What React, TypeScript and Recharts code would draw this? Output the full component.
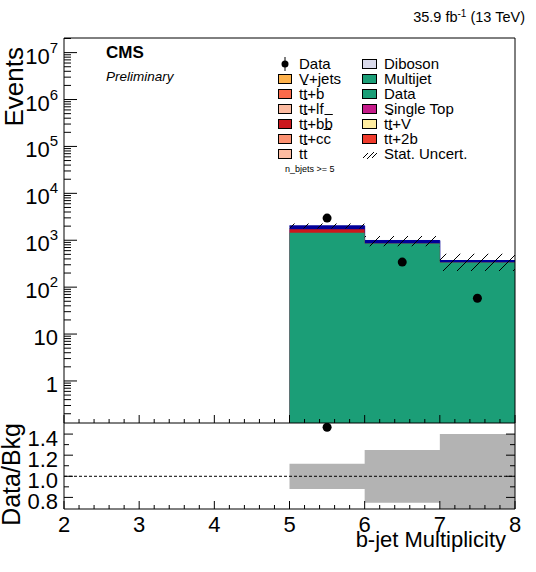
import React from 'react';
import { ComposedChart, Area, Scatter, XAxis, YAxis, ReferenceLine, ReferenceArea } from 'recharts';

const FONT = '"Liberation Sans", Arial, Helvetica, sans-serif';

// ---- data: b-jet multiplicity bins [2,3), [3,4), ... [7,8]
const binLowEdges = [2, 3, 4, 5, 6, 7];
const lastEdge = 8;
const multijet = [null, null, null, 1443, 853, 335];
const ttbbYield = [null, null, null, 280, 4, 1];
const otherYield = [null, null, null, 304, 131, 34];
const dataCounts = [null, null, null, 2970, 342, 58];
const statUncRel = [null, null, null, 0.12, 0.25, 0.4];

// ---- axis ticks
const xMajorTicks = [2, 3, 4, 5, 6, 7, 8];
const logDecades = [-1, 0, 1, 2, 3, 4, 5, 6, 7];
const ratioTicks = [0.8, 0.9, 1.0, 1.1, 1.2, 1.3, 1.4];
const ratioMajorTicks = [0.8, 1.0, 1.2, 1.4];
const ratioTickLabels = ['0.8', '1.0', '1.2', '1.4'];

// ---- legend
const legendCol1 = ['Data', 'V+jets', 't|t|+b', 't|t|+lf', 't|t|+b|b|', 't|t|+c|c|', 't|t|'];
const legendCol1Colors = [null, '#feb24c', '#fb6a4a', '#fcbba1', '#cb181d', '#fc9272', '#fcbba1'];
const legendCol2 = ['Diboson', 'Multijet', 'Data', 'Single Top', 't|t|+V', 't|t|+2b', 'Stat. Uncert.'];
const legendCol2Colors = ['#dadaeb', '#1b9e77', '#1b9e77', '#c51b8a', '#ffeda0', '#ef3b2c', null];

const COL_MJ = '#1b9e77';
const COL_BB = '#cb181d';
const COL_OTHER = '#000099';

const Y_MIN = 0.127;
const Y_MAX = 2.05e7;
const R_MIN = 0.69;
const R_MAX = 1.505;

const binTotal = (i: number) =>
  (multijet[i] ?? 0) + (ttbbYield[i] ?? 0) + (otherYield[i] ?? 0);

const histRows = [...binLowEdges, lastEdge].map((x, k) => {
  const i = Math.min(k, binLowEdges.length - 1);
  const mj = multijet[i];
  if (mj == null) return { x, mj: null, mjbb: null, total: null, unc: null, band: null };
  const mjbb = mj + (ttbbYield[i] ?? 0);
  const total = binTotal(i);
  const u = statUncRel[i] ?? 0;
  return { x, mj, mjbb, total, unc: [total * (1 - u), total * (1 + u)], band: [1 - u, 1 + u] };
});

const binCenters = binLowEdges.map((e) => e + 0.5);
const dataPoints = binCenters
  .map((x, i) => ({ x, y: dataCounts[i] }))
  .filter((p) => p.y != null);
const ratioPoints = binCenters
  .map((x, i) => (dataCounts[i] == null ? null : { x, y: (dataCounts[i] as number) / binTotal(i) }))
  .filter((p) => p != null && p.y >= R_MIN && p.y <= R_MAX) as { x: number; y: number }[];

const xTicks: number[] = [];
xMajorTicks.forEach((t, i) => {
  xTicks.push(t);
  if (i < xMajorTicks.length - 1) for (let k = 1; k < 5; k++) xTicks.push(+(t + k * 0.2).toFixed(1));
});

const logTicks: number[] = [];
logDecades.forEach((e) => {
  for (let m = 1; m <= 9; m++) {
    const v = m * Math.pow(10, e);
    if (v >= Y_MIN && v <= Y_MAX) logTicks.push(v);
  }
});

const isInt = (v: number) => Math.abs(v - Math.round(v)) < 1e-6;

const XTickUp = (p: any) => {
  const major = isInt(p.payload.value);
  return <line x1={p.x} x2={p.x} y1={p.y} y2={p.y - (major ? 8 : 4)} stroke="#000" strokeWidth={1} />;
};

const XTickRatio = (p: any) => {
  const v = p.payload.value;
  const major = isInt(v);
  return (
    <g>
      <line x1={p.x} x2={p.x} y1={p.y} y2={p.y - (major ? 8 : 4)} stroke="#000" strokeWidth={1} />
      {major && (
        <text x={p.x} y={p.y + 23} textAnchor="middle" fontSize={22} fontFamily={FONT} fill="#000">
          {Math.round(v)}
        </text>
      )}
    </g>
  );
};

const LogTick = (p: any) => {
  const v = p.payload.value;
  const lg = Math.log10(v);
  const e = Math.round(lg);
  const major = Math.abs(lg - e) < 1e-6;
  let label = null;
  if (major) {
    if (e >= 2) {
      label = (
        <text x={p.x - 6} y={p.y + 11} textAnchor="end" fontSize={22} fontFamily={FONT} fill="#000">
          10<tspan fontSize={15} dy={-11}>{e}</tspan>
        </text>
      );
    } else {
      label = (
        <text x={p.x - 6} y={p.y + 11} textAnchor="end" fontSize={22} fontFamily={FONT} fill="#000">
          {e === 1 ? '10' : '1'}
        </text>
      );
    }
  }
  return (
    <g>
      <line x1={p.x} x2={p.x + (major ? 13 : 7)} y1={p.y} y2={p.y} stroke="#000" strokeWidth={1} />
      {label}
    </g>
  );
};

const ratioIsMajor = (v: number) => ratioMajorTicks.some((m) => Math.abs(m - v) < 1e-6);

const RatioTickLeft = (p: any) => {
  const v = p.payload.value;
  const idx = ratioMajorTicks.findIndex((m) => Math.abs(m - v) < 1e-6);
  const major = idx >= 0;
  return (
    <g>
      <line x1={p.x} x2={p.x + (major ? 9 : 5)} y1={p.y} y2={p.y} stroke="#000" strokeWidth={1} />
      {major && (
        <text x={p.x - 6} y={p.y + 12} textAnchor="end" fontSize={22} fontFamily={FONT} fill="#000">
          {ratioTickLabels[idx]}
        </text>
      )}
    </g>
  );
};

const RatioTickRight = (p: any) => {
  const major = ratioIsMajor(p.payload.value);
  return <line x1={p.x} x2={p.x - (major ? 9 : 5)} y1={p.y} y2={p.y} stroke="#000" strokeWidth={1} />;
};

const Dot = (p: any) => <circle cx={p.cx} cy={p.cy} r={4.5} fill="#000" />;

const renderLabel = (s: string) =>
  s.split('|').map((part, i) =>
    i % 2 === 1 ? (
      <span key={i} style={{ textDecoration: 'overline' }}>
        {part}
      </span>
    ) : (
      <span key={i}>{part}</span>
    )
  );

const ROW0 = 64;
const ROWSTEP = 15.05;

const LegendColumn = ({ labels, colors, boxX, boxW, textX }: any) => (
  <>
    {labels.map((lab: string, i: number) => {
      const cy = ROW0 + ROWSTEP * i;
      const col = colors[i];
      let marker;
      if (lab === 'Data' && col == null) {
        marker = (
          <svg style={{ position: 'absolute', left: boxX, top: cy - 7 }} width={boxW} height={14}>
            <line x1={boxW / 2} x2={boxW / 2} y1={0} y2={14} stroke="#000" strokeWidth={1} />
            <circle cx={boxW / 2} cy={7} r={3.5} fill="#000" />
          </svg>
        );
      } else if (col == null) {
        marker = (
          <svg style={{ position: 'absolute', left: boxX, top: cy - 5 }} width={boxW} height={10}>
            <path d="M1,9 L6,4 M5,10 L12,3 M10,9 L15,4" stroke="#000" strokeWidth={1} />
          </svg>
        );
      } else {
        marker = (
          <div
            style={{
              position: 'absolute',
              left: boxX,
              top: cy - 5,
              width: boxW,
              height: 10,
              boxSizing: 'border-box',
              border: '1px solid #000',
              background: col,
            }}
          />
        );
      }
      return (
        <React.Fragment key={i}>
          {marker}
          <div
            style={{
              position: 'absolute',
              left: textX,
              top: cy - 9,
              height: 18,
              lineHeight: '18px',
              fontSize: 15,
              whiteSpace: 'nowrap',
              color: '#000',
            }}
          >
            {renderLabel(lab)}
          </div>
        </React.Fragment>
      );
    })}
  </>
);

export default function App() {
  return (
    <div
      style={{
        position: 'absolute',
        left: 0,
        top: 0,
        width: 536,
        height: 572,
        background: '#fff',
        fontFamily: FONT,
        overflow: 'hidden',
      }}
    >
      <div style={{ position: 'absolute', left: 0, top: 0 }}>
        <ComposedChart width={536} height={424} data={histRows} margin={{ top: 38, right: 21, bottom: 0, left: 0 }}>
          <defs>
            <pattern id="hatch" patternUnits="userSpaceOnUse" width="14" height="14">
              <path d="M0,14 L14,0 M-2,2 L2,-2 M12,16 L16,12" stroke="#000" strokeWidth="1" />
            </pattern>
          </defs>
          <XAxis
            dataKey="x"
            type="number"
            domain={[2, 8]}
            allowDataOverflow
            ticks={xTicks}
            interval={0}
            tick={(p: any) => <XTickUp {...p} />}
            tickLine={false}
            axisLine={false}
            tickSize={0}
            tickMargin={0}
            height={1}
          />
          <YAxis
            type="number"
            scale="log"
            domain={[Y_MIN, Y_MAX]}
            allowDataOverflow
            ticks={logTicks}
            interval={0}
            tick={(p: any) => <LogTick {...p} />}
            tickLine={false}
            axisLine={false}
            tickSize={0}
            tickMargin={0}
            width={64}
          />
          <Area
            dataKey="total"
            type="stepAfter"
            fill={COL_OTHER}
            fillOpacity={1}
            stroke={COL_OTHER}
            strokeWidth={1}
            baseValue="dataMin"
            isAnimationActive={false}
          />
          <Area
            dataKey="mjbb"
            type="stepAfter"
            fill={COL_BB}
            fillOpacity={1}
            stroke="none"
            baseValue="dataMin"
            isAnimationActive={false}
          />
          <Area
            dataKey="mj"
            type="stepAfter"
            fill={COL_MJ}
            fillOpacity={1}
            stroke="none"
            baseValue="dataMin"
            isAnimationActive={false}
          />
          <Area
            dataKey="unc"
            type="stepAfter"
            fill="url(#hatch)"
            fillOpacity={1}
            stroke="none"
            isAnimationActive={false}
          />
          <Scatter data={dataPoints} dataKey="y" shape={(p: any) => <Dot {...p} />} isAnimationActive={false} />
          <ReferenceArea x1={2} x2={8} y1={Y_MIN} y2={Y_MAX} fill="none" stroke="#000" strokeWidth={1} ifOverflow="visible" />
        </ComposedChart>
      </div>

      <div style={{ position: 'absolute', left: 0, top: 423 }}>
        <ComposedChart width={536} height={149} data={histRows} margin={{ top: 0, right: 20, bottom: 62, left: 0 }}>
          <XAxis
            dataKey="x"
            type="number"
            domain={[2, 8]}
            allowDataOverflow
            ticks={xTicks}
            interval={0}
            tick={(p: any) => <XTickRatio {...p} />}
            tickLine={false}
            axisLine={{ stroke: '#000', strokeWidth: 1 }}
            tickSize={0}
            tickMargin={0}
            height={1}
          />
          <YAxis
            yAxisId="l"
            type="number"
            domain={[R_MIN, R_MAX]}
            allowDataOverflow
            ticks={ratioTicks}
            interval={0}
            tick={(p: any) => <RatioTickLeft {...p} />}
            tickLine={false}
            axisLine={{ stroke: '#000', strokeWidth: 1 }}
            tickSize={0}
            tickMargin={0}
            width={64}
          />
          <YAxis
            yAxisId="r"
            orientation="right"
            type="number"
            domain={[R_MIN, R_MAX]}
            allowDataOverflow
            ticks={ratioTicks}
            interval={0}
            tick={(p: any) => <RatioTickRight {...p} />}
            tickLine={false}
            axisLine={{ stroke: '#000', strokeWidth: 1 }}
            tickSize={0}
            tickMargin={0}
            width={1}
          />
          <Area
            yAxisId="l"
            dataKey="band"
            type="stepAfter"
            fill="#b3b3b3"
            fillOpacity={1}
            stroke="none"
            isAnimationActive={false}
          />
          <ReferenceLine yAxisId="l" y={1} stroke="#000" strokeWidth={1} strokeDasharray="3 2" />
          <Scatter yAxisId="l" data={ratioPoints} dataKey="y" shape={(p: any) => <Dot {...p} />} isAnimationActive={false} />
        </ComposedChart>
      </div>

      <svg
        width={536}
        height={572}
        style={{ position: 'absolute', left: 0, top: 0, pointerEvents: 'none' }}
        fontFamily={FONT}
      >
        <text x={525} y={22} textAnchor="end" fontSize={14.5} fill="#000">
          35.9 fb<tspan fontSize={10} dy={-5.5}>-1</tspan>
          <tspan dy={5.5}> (13 TeV)</tspan>
        </text>
        <text x={106} y={58.3} fontSize={17} fontWeight="bold" fill="#000">
          CMS
        </text>
        <text x={106} y={80.5} fontSize={13.5} fontStyle="italic" fill="#000">
          Preliminary
        </text>
        <text transform="translate(23,47) rotate(-90)" textAnchor="end" fontSize={26} fill="#000">
          Events
        </text>
        <text transform="translate(20,423) rotate(-90)" textAnchor="end" fontSize={25} fill="#000">
          Data/Bkg
        </text>
        <text x={506} y={546.7} textAnchor="end" fontSize={22} fill="#000">
          b-jet Multiplicity
        </text>
        <text x={285} y={171.5} fontSize={9} fill="#000">
          n_bjets &gt;= 5
        </text>
      </svg>

      <LegendColumn labels={legendCol1} colors={legendCol1Colors} boxX={278} boxW={14} textX={299} />
      <LegendColumn labels={legendCol2} colors={legendCol2Colors} boxX={362} boxW={15} textX={384} />
    </div>
  );
}
